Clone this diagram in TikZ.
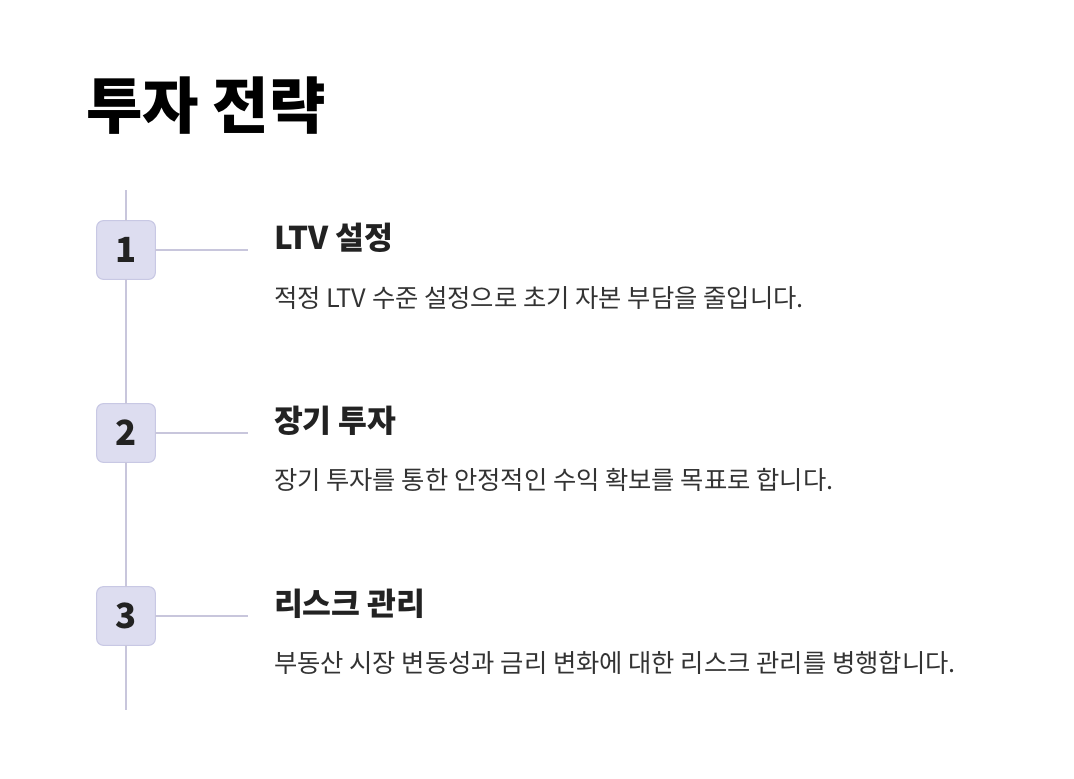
\documentclass[tikz,border=0pt]{standalone}
\usepackage{fontspec}
\setmainfont{Noto Sans CJK KR}
\usetikzlibrary{positioning}
\definecolor{stepfill}{RGB}{221,221,240}
\definecolor{stepdraw}{RGB}{200,200,228}
\definecolor{linegray}{RGB}{200,198,220}
\definecolor{textdark}{RGB}{34,34,34}
\definecolor{descgray}{RGB}{51,51,51}

\begin{document}
\begin{tikzpicture}[
  x=0.75pt, y=-0.75pt,
  every node/.style={inner sep=0pt, outer sep=0pt},
  numbox/.style={draw=stepdraw, fill=stepfill, line width=0.8pt, rounded corners=5pt,
    minimum width=44pt, minimum height=44pt, font=\bfseries\fontsize{26}{28}\selectfont, text=textdark},
  stemline/.style={linegray, line width=1.8pt},
  headtext/.style={anchor=west, font=\bfseries\fontsize{23.5}{28}\selectfont, text=textdark},
  desctext/.style={anchor=west, font=\fontsize{19}{22}\selectfont, text=descgray},
]

% ===== canvas =====
\useasboundingbox (0,0) rectangle (1074,778);
\fill[white] (0,0) rectangle (1074,778);

% Title
\node[anchor=west, font=\bfseries\fontsize{46}{52}\selectfont, text=black] (title) at (86,106) {투자 전략};

% ---- timeline ends ----
\coordinate (top) at (126,190);
\coordinate (bottom) at (126,710);

% ---- step boxes ----
\node[numbox] (s1) at (126,250) {1};
\node[numbox] (s2) at (126,433) {2};
\node[numbox] (s3) at (126,616) {3};

% vertical stem between the boxes
\draw[stemline] (top) -- (s1.north);
\draw[stemline] (s1.south) -- (s2.north);
\draw[stemline] (s2.south) -- (s3.north);
\draw[stemline] (s3.south) -- (bottom);

% ---- branch ends ----
\coordinate (b1) at (248,250);
\coordinate (b2) at (248,433);
\coordinate (b3) at (248,616);
\draw[stemline] (s1.east) -- (b1);
\draw[stemline] (s2.east) -- (b2);
\draw[stemline] (s3.east) -- (b3);

% ---- texts ----
\node[headtext] (h1) at (274,238) {LTV 설정};
\node[desctext] (d1) at (274,298) {적정 LTV 수준 설정으로 초기 자본 부담을 줄입니다.};

\node[headtext] (h2) at (274,421) {장기 투자};
\node[desctext] (d2) at (274,480) {장기 투자를 통한 안정적인 수익 확보를 목표로 합니다.};

\node[headtext] (h3) at (274,604) {리스크 관리};
\node[desctext] (d3) at (274,663) {부동산 시장 변동성과 금리 변화에 대한 리스크 관리를 병행합니다.};

\end{tikzpicture}
\end{document}
